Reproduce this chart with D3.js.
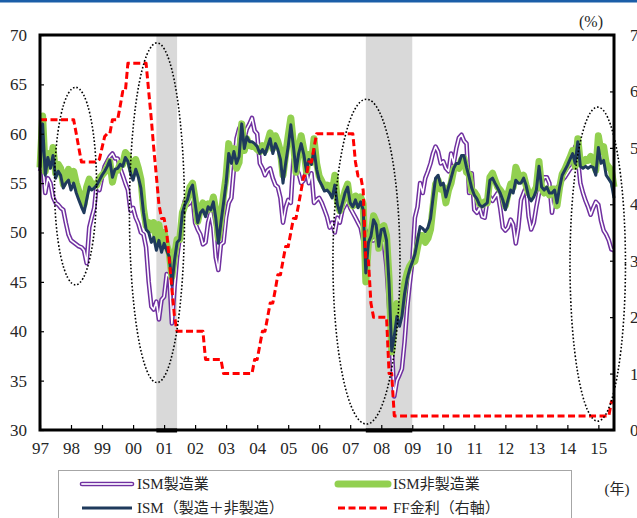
<!DOCTYPE html>
<html>
<head>
<meta charset="utf-8">
<script src="https://cdn.jsdelivr.net/npm/d3@7"></script>
<style>
	body { margin: 0; background: #fff; }
	svg { display: block; }
</style>
</head>
<body>
<svg id="chart" width="637" height="518"></svg>
<script>
(function() {
// monthly data, Jul 1997 - Jan 2016
var startMonth = "1997-07";
var endMonth = "2016-01";

var ismMfg = [
	56.2, 57.0, 54.0, 55.5, 55.0, 53.6,
	53.0, 52.8, 52.5, 52.3, 51.0, 49.8, 49.2, 49.0, 48.8, 48.6, 48.5, 48.2,
	46.9, 50.5, 51.5, 52.5, 55.0, 54.3, 55.6, 56.7, 57.2, 57.7, 58.0, 57.5,
	57.5, 56.5, 55.8, 55.0, 54.3, 52.2, 52.5, 51.5, 50.9, 50.0, 49.8, 48.5,
	45.0, 42.5, 42.2, 43.0, 41.2, 43.2, 43.5, 45.8, 45.5, 40.8, 44.5, 47.5,
	49.5, 52.0, 53.2, 52.8, 53.0, 53.6, 51.0, 50.3, 49.8, 48.8, 49.0, 51.0,
	52.0, 50.5, 47.5, 46.2, 48.8, 49.0, 51.5, 53.0, 53.5, 56.5, 59.5, 60.5,
	61.0, 59.5, 60.5, 61.0, 61.6, 60.3, 60.0, 57.0, 56.5, 55.8, 56.3, 56.5,
	55.5, 54.8, 54.6, 53.5, 51.0, 52.5, 53.3, 53.0, 57.4, 56.5, 56.0, 55.0,
	55.3, 56.3, 55.0, 56.0, 53.0, 53.3, 53.5, 53.0, 52.3, 51.6, 50.5, 51.0,
	50.0, 51.5, 51.0, 52.3, 52.8, 53.2, 52.5, 52.0, 51.5, 51.0, 50.5, 49.2,
	50.2, 49.0, 49.2, 49.2, 49.4, 49.5, 49.2, 48.9, 46.5, 42.5, 38.5, 33.4,
	35.0, 35.6, 36.2, 38.9, 42.3, 44.8, 47.0, 51.5, 52.6, 55.0, 54.0, 55.5,
	56.2, 57.0, 58.0, 58.7, 58.2, 57.0, 57.2, 56.5, 56.2, 58.0, 57.0, 58.5,
	59.6, 59.9, 59.3, 59.0, 54.0, 56.0, 52.3, 52.0, 52.5, 51.6, 51.5, 53.2,
	53.6, 53.2, 53.6, 54.0, 52.5, 50.5, 50.2, 50.5, 51.3, 50.8, 48.9, 50.5,
	53.3, 54.0, 54.6, 51.6, 50.3, 51.0, 52.6, 54.0, 55.0, 55.6, 55.6, 55.0,
	52.0, 53.8, 54.5, 54.8, 55.3, 55.6, 56.0, 56.4, 56.7, 58.7, 57.5, 55.0,
	54.0, 53.2, 52.6, 51.8, 52.5, 53.1, 52.8, 51.2, 50.2, 49.8, 49.2, 48.3,
	48.2
];

var ismNonMfg = [
	56.6, 61.8, 56.2, 58.0, 56.8, 58.6,
	56.0, 56.9, 56.5, 54.9, 55.8, 56.4, 55.3, 56.2, 55.0, 54.2, 53.4, 52.8,
	54.6, 55.4, 54.9, 54.9, 54.8, 55.5, 55.8, 56.1, 56.6, 57.2, 55.1, 56.2,
	56.3, 57.0, 56.9, 58.1, 57.8, 56.8, 55.9, 57.4, 56.5, 55.4, 52.4, 50.7,
	51.0, 50.3, 51.0, 49.2, 50.8, 49.0, 50.0, 48.7, 47.9, 45.5, 47.7, 49.3,
	49.3, 52.0, 52.7, 53.4, 54.6, 55.0, 53.4, 51.1, 52.4, 53.0, 52.1, 52.9,
	52.4, 53.6, 52.3, 49.4, 51.4, 53.8, 55.7, 59.0, 57.7, 58.5, 56.5, 57.1,
	61.0, 58.3, 59.5, 58.8, 58.7, 58.7, 58.4, 58.2, 58.8, 58.3, 59.2, 60.1,
	58.5, 59.8, 59.2, 58.2, 55.8, 57.9, 59.8, 61.6, 59.0, 56.1, 58.4, 59.8,
	58.4, 56.2, 57.9, 57.1, 59.5, 57.0, 55.7, 55.2, 54.6, 54.8, 54.7, 54.0,
	55.8, 53.1, 52.2, 53.1, 54.2, 54.9, 53.1, 52.7, 53.7, 52.8, 53.6, 52.9,
	45.0, 49.0, 49.7, 51.7, 51.1, 48.4, 50.5, 50.7, 49.7, 45.3, 37.9, 40.7,
	42.8, 41.5, 42.6, 44.8, 45.9, 46.6, 47.0, 47.1, 48.5, 49.7, 49.7, 49.0,
	49.4, 50.3, 52.5, 54.9, 55.3, 54.4, 54.6, 53.0, 54.3, 55.0, 56.4, 56.7,
	56.5, 57.4, 57.5, 56.1, 55.9, 54.2, 54.1, 53.7, 52.9, 52.8, 53.1, 53.0,
	55.6, 56.0, 55.3, 54.6, 54.3, 53.9, 52.7, 53.9, 54.9, 54.6, 56.6, 55.9,
	55.3, 55.8, 54.8, 54.0, 53.8, 54.1, 54.6, 57.2, 54.5, 54.0, 54.4, 53.8,
	54.4, 54.4, 52.7, 54.6, 55.9, 56.4, 57.0, 57.6, 58.3, 56.7, 59.5, 57.0,
	57.0, 57.4, 57.3, 57.7, 57.4, 56.3, 59.8, 58.2, 58.7, 57.0, 56.6, 56.3,
	54.6
];

var ismComposite = [
	56.5, 61.0, 55.8, 57.6, 56.5, 57.8,
	55.5, 56.2, 55.8, 54.5, 55.0, 55.3, 54.3, 55.0, 54.0, 53.3, 52.6, 52.0,
	53.3, 54.6, 54.3, 54.5, 54.8, 55.3, 55.8, 56.2, 56.7, 57.3, 55.6, 56.4,
	56.5, 56.9, 56.7, 57.6, 57.2, 56.0, 55.3, 56.4, 55.6, 54.5, 52.0, 50.3,
	50.0, 49.0, 49.5, 48.2, 49.2, 48.0, 48.9, 48.2, 47.5, 44.7, 47.2, 49.0,
	49.3, 52.0, 52.8, 53.3, 54.3, 54.8, 53.0, 51.0, 52.0, 52.3, 51.6, 52.6,
	52.3, 53.1, 51.5, 48.9, 51.0, 53.0, 55.0, 58.0, 57.0, 58.2, 57.0, 57.7,
	61.0, 58.5, 59.7, 59.2, 59.2, 59.0, 58.7, 58.0, 58.4, 57.9, 58.7, 59.5,
	58.0, 59.0, 58.4, 57.4, 55.0, 57.0, 58.7, 60.9, 58.7, 56.2, 58.0, 59.0,
	57.9, 56.2, 57.4, 56.9, 58.4, 56.4, 55.3, 54.8, 54.2, 54.3, 54.0, 53.5,
	54.8, 52.8, 52.0, 53.0, 54.0, 54.6, 53.0, 52.6, 53.3, 52.5, 53.1, 52.3,
	45.9, 49.0, 49.6, 51.3, 50.8, 48.6, 50.3, 50.4, 49.2, 44.8, 38.0, 39.5,
	41.5, 40.5, 41.5, 43.8, 45.3, 46.3, 47.0, 47.8, 49.2, 50.6, 50.4, 50.1,
	50.5, 51.4, 53.4, 55.5, 55.8, 54.8, 55.0, 53.6, 54.6, 55.5, 56.5, 57.0,
	57.0, 57.8, 57.8, 56.6, 55.6, 54.5, 53.8, 53.4, 52.8, 52.6, 52.8, 53.0,
	55.3, 55.5, 55.0, 54.5, 54.0, 53.3, 52.3, 53.3, 54.3, 54.0, 55.3, 55.0,
	55.0, 55.5, 54.8, 53.6, 53.2, 53.6, 54.3, 56.7, 54.6, 54.3, 54.6, 54.0,
	54.0, 54.3, 53.0, 54.6, 55.8, 56.3, 56.8, 57.4, 58.0, 57.0, 59.2, 56.7,
	56.5, 56.7, 56.5, 56.7, 56.6, 55.8, 58.6, 57.0, 57.3, 55.8, 55.4, 55.0,
	53.5
];

// FF rate (right axis, %)
var ffRate = [
	5.5, 5.5, 5.5, 5.5, 5.5, 5.5,
	5.5, 5.5, 5.5, 5.5, 5.5, 5.5, 5.5, 5.5, 5.25, 5.0, 4.75, 4.75,
	4.75, 4.75, 4.75, 4.75, 4.75, 4.8, 5.0, 5.2, 5.25, 5.25, 5.5, 5.5,
	5.5, 5.75, 6.0, 6.0, 6.5, 6.5, 6.5, 6.5, 6.5, 6.5, 6.5, 6.5,
	6.0, 5.5, 5.0, 4.5, 4.0, 3.75, 3.75, 3.5, 3.0, 2.5, 2.0, 1.75,
	1.75, 1.75, 1.75, 1.75, 1.75, 1.75, 1.75, 1.75, 1.75, 1.75, 1.25, 1.25,
	1.25, 1.25, 1.25, 1.25, 1.25, 1.0, 1.0, 1.0, 1.0, 1.0, 1.0, 1.0,
	1.0, 1.0, 1.0, 1.0, 1.0, 1.25, 1.25, 1.5, 1.75, 1.75, 2.0, 2.25,
	2.25, 2.5, 2.75, 2.75, 3.0, 3.25, 3.25, 3.5, 3.75, 3.75, 4.0, 4.25,
	4.5, 4.5, 4.75, 4.75, 5.0, 5.25, 5.25, 5.25, 5.25, 5.25, 5.25, 5.25,
	5.25, 5.25, 5.25, 5.25, 5.25, 5.25, 5.25, 5.25, 4.75, 4.5, 4.5, 4.25,
	3.0, 3.0, 2.25, 2.0, 2.0, 2.0, 2.0, 2.0, 2.0, 1.0, 1.0, 0.25,
	0.25, 0.25, 0.25, 0.25, 0.25, 0.25, 0.25, 0.25, 0.25, 0.25, 0.25, 0.25,
	0.25, 0.25, 0.25, 0.25, 0.25, 0.25, 0.25, 0.25, 0.25, 0.25, 0.25, 0.25,
	0.25, 0.25, 0.25, 0.25, 0.25, 0.25, 0.25, 0.25, 0.25, 0.25, 0.25, 0.25,
	0.25, 0.25, 0.25, 0.25, 0.25, 0.25, 0.25, 0.25, 0.25, 0.25, 0.25, 0.25,
	0.25, 0.25, 0.25, 0.25, 0.25, 0.25, 0.25, 0.25, 0.25, 0.25, 0.25, 0.25,
	0.25, 0.25, 0.25, 0.25, 0.25, 0.25, 0.25, 0.25, 0.25, 0.25, 0.25, 0.25,
	0.25, 0.25, 0.25, 0.25, 0.25, 0.25, 0.25, 0.25, 0.25, 0.25, 0.25, 0.5,
	0.5
];

var leftTicks = [30, 35, 40, 45, 50, 55, 60, 65, 70];
var rightTicks = [0, 1, 2, 3, 4, 5, 6, 7];
var yearTicks = ["1997", "1998", "1999", "2000", "2001", "2002", "2003", "2004", "2005",
	"2006", "2007", "2008", "2009", "2010", "2011", "2012", "2013", "2014", "2015"];

// shaded recession periods
var recessions = [["2001-04", "2001-12"], ["2008-01", "2009-07"]];

// dotted ellipse call-outs: [from, to, low, high]
var callouts = [
	["1997-12-19", "1999-04-28", 44.7, 64.7],
	["2000-05-19", "2002-02-27", 34.8, 69.2],
	["2006-12-10", "2009-02-06", 30.6, 63.5],
	["2014-08-01", "2016-05-15", 30.9, 62.7]
];

var legendItems = [
	{ key: "mfg", label: "ISM製造業" },
	{ key: "nonmfg", label: "ISM非製造業" },
	{ key: "comp", label: "ISM（製造＋非製造）" },
	{ key: "ff", label: "FF金利（右軸）" }
];

var W = 637, H = 518;
var pL = 40, pR = 614, pT = 35, pB = 430;
var serif = "'Liberation Serif', 'DejaVu Serif', 'Noto Sans CJK JP', serif";
var textCol = "#262626";

var col = {
	mfg: "#7030a0",
	nonmfg: "#92d050",
	comp: "#1f3a5c",
	ff: "#ff0000"
};

var parseM = d3.timeParse("%Y-%m");
var parseD = d3.timeParse("%Y-%m-%d");

var months = d3.timeMonth.range(parseM(startMonth), d3.timeMonth.offset(parseM(endMonth), 1));

var x = d3.scaleTime()
	.domain([parseM(startMonth), parseM(endMonth)])
	.range([pL, pR]);
var yL = d3.scaleLinear().domain([30, 70]).range([pB, pT]);
var yR = d3.scaleLinear().domain([0, 7]).range([pB, pT]);

var svg = d3.select("#chart");

svg.append("rect")
	.attr("x", 0).attr("y", 0)
	.attr("width", W).attr("height", H)
	.attr("fill", "#fff");

// blue band on the very top
svg.append("rect")
	.attr("x", 0).attr("y", 0)
	.attr("width", W).attr("height", 2.5)
	.attr("fill", "#1b5ea8");

// recession shading
svg.append("g").selectAll("rect")
	.data(recessions)
	.enter()
	.append("rect")
	.attr("x", function(d) { return x(parseM(d[0])); })
	.attr("y", pT)
	.attr("width", function(d) { return x(parseM(d[1])) - x(parseM(d[0])); })
	.attr("height", pB - pT)
	.attr("fill", "#d9d9d9");

function series(vals) {
	return vals.map(function(v, i) { return [months[i], v]; });
}

function linePath(scale) {
	return d3.line()
		.x(function(d) { return x(d[0]); })
		.y(function(d) { return scale(d[1]); });
}

var lines = svg.append("g")
	.attr("fill", "none")
	.attr("stroke-linejoin", "round");

// ISM manufacturing: double line
lines.append("path")
	.datum(series(ismMfg))
	.attr("d", linePath(yL))
	.attr("stroke", col.mfg)
	.attr("stroke-width", 4.6);
lines.append("path")
	.datum(series(ismMfg))
	.attr("d", linePath(yL))
	.attr("stroke", "#fff")
	.attr("stroke-width", 1.6);

lines.append("path")
	.datum(series(ismNonMfg))
	.attr("d", linePath(yL))
	.attr("stroke", col.nonmfg)
	.attr("stroke-width", 7);

lines.append("path")
	.datum(series(ismComposite))
	.attr("d", linePath(yL))
	.attr("stroke", col.comp)
	.attr("stroke-width", 3);

lines.append("path")
	.datum(series(ffRate))
	.attr("d", linePath(yR))
	.attr("stroke", col.ff)
	.attr("stroke-width", 3)
	.attr("stroke-dasharray", "7,3.5");

// dotted ellipses
svg.append("g").selectAll("ellipse")
	.data(callouts)
	.enter()
	.append("ellipse")
	.attr("cx", function(d) { return (x(parseD(d[0])) + x(parseD(d[1]))) / 2; })
	.attr("cy", function(d) { return (yL(d[2]) + yL(d[3])) / 2; })
	.attr("rx", function(d) { return (x(parseD(d[1])) - x(parseD(d[0]))) / 2; })
	.attr("ry", function(d) { return (yL(d[2]) - yL(d[3])) / 2; })
	.attr("fill", "none")
	.attr("stroke", "#000")
	.attr("stroke-width", 1.6)
	.attr("stroke-dasharray", "1.6,2");

// axes
function styleAxis(g) {
	g.select(".domain").remove();
	g.selectAll(".tick line").attr("stroke", "#000").attr("stroke-width", 1.2);
	g.selectAll(".tick text")
		.attr("fill", textCol)
		.attr("font-family", serif)
		.attr("font-size", 17);
}

svg.append("g")
	.attr("transform", "translate(" + pL + ",0)")
	.call(d3.axisLeft(yL).tickValues(leftTicks).tickSize(-4).tickPadding(13))
	.call(styleAxis);

// right axis labels sit at the window edge, as in the original
svg.append("g")
	.attr("transform", "translate(" + pR + ",0)")
	.call(d3.axisRight(yR).tickValues(rightTicks).tickSize(-4).tickPadding(16))
	.call(styleAxis);

svg.append("g")
	.attr("transform", "translate(0," + pB + ")")
	.call(d3.axisBottom(x)
		.tickValues(yearTicks.map(function(y) { return parseM(y + "-07"); }))
		.tickFormat(d3.timeFormat("%y"))
		.tickSize(-5)
		.tickPadding(12))
	.call(styleAxis);

// plot frame
svg.append("rect")
	.attr("x", pL).attr("y", pT)
	.attr("width", pR - pL).attr("height", pB - pT)
	.attr("fill", "none")
	.attr("stroke", "#000")
	.attr("stroke-width", 3);

// thicker base under the shaded bars
svg.append("g").selectAll("line")
	.data(recessions)
	.enter()
	.append("line")
	.attr("x1", function(d) { return x(parseM(d[0])); })
	.attr("x2", function(d) { return x(parseM(d[1])); })
	.attr("y1", pB + 0.5).attr("y2", pB + 0.5)
	.attr("stroke", "#000")
	.attr("stroke-width", 4);

// unit labels
svg.append("text")
	.attr("x", 591).attr("y", 27)
	.attr("text-anchor", "middle")
	.attr("font-family", serif)
	.attr("font-size", 16)
	.attr("fill", textCol)
	.text("(%)");

svg.append("text")
	.attr("x", 617).attr("y", 494)
	.attr("text-anchor", "middle")
	.attr("font-family", serif)
	.attr("font-size", 15)
	.attr("fill", textCol)
	.text("(年)");

// legend
var legend = svg.append("g");
legend.append("rect")
	.attr("x", 58.5).attr("y", 470.5)
	.attr("width", 513).attr("height", 60)
	.attr("fill", "#fff")
	.attr("stroke", "#a6a6a6");

var lx = [82, 338], ly = [484, 508];
var item = legend.selectAll("g.item")
	.data(legendItems)
	.enter()
	.append("g")
	.attr("class", "item")
	.attr("transform", function(d, i) {
		var c = (i === 0 || i === 2) ? 0 : 1;
		var r = i < 2 ? 0 : 1;
		return "translate(" + lx[c] + "," + ly[r] + ")";
	});

item.each(function(d) {
	var g = d3.select(this);
	var sw = 50;
	if (d.key === "mfg") {
		g.append("line").attr("x2", sw).attr("stroke", col.mfg).attr("stroke-width", 4.6).attr("stroke-linecap", "round");
		g.append("line").attr("x2", sw).attr("stroke", "#eadff4").attr("stroke-width", 1.8).attr("stroke-linecap", "round");
	} else if (d.key === "nonmfg") {
		g.append("line").attr("x2", sw).attr("stroke", col.nonmfg).attr("stroke-width", 7).attr("stroke-linecap", "round");
	} else if (d.key === "comp") {
		g.append("line").attr("x2", sw).attr("stroke", col.comp).attr("stroke-width", 3);
	} else {
		g.append("line").attr("x2", sw).attr("stroke", col.ff).attr("stroke-width", 3).attr("stroke-dasharray", "7,3.5");
	}
	g.append("text")
		.attr("x", 55)
		.attr("y", 0)
		.attr("dy", "0.35em")
		.attr("font-family", serif)
		.attr("font-size", 15)
		.attr("fill", textCol)
		.text(d.label);
});
})();
</script>
</body>
</html>
